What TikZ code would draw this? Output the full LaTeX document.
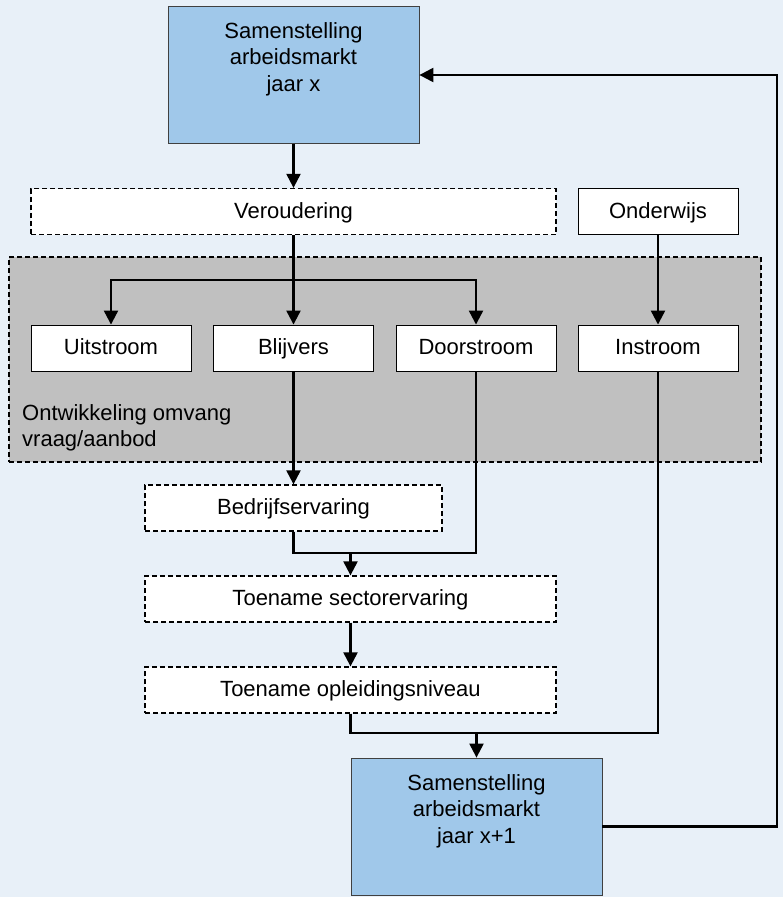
\documentclass[tikz,border=0pt]{standalone}
\usepackage{fontspec}
\setmainfont{Liberation Sans}
\usetikzlibrary{arrows.meta,positioning}
\definecolor{achter}{RGB}{232,240,248}
\definecolor{jaarblauw}{RGB}{160,200,234}
\definecolor{grijsvak}{RGB}{192,192,192}
\begin{document}
\begin{tikzpicture}[x=1pt,y=-1pt,
  font=\fontsize{22}{26.5}\selectfont,
  blauwvak/.style={draw=black!75,fill=jaarblauw,line width=0.8pt,minimum width=251pt,minimum height=137pt,inner sep=0pt},
  vak/.style={draw,fill=white,line width=0.9pt,minimum width=160pt,minimum height=46pt,inner sep=0pt,text height=16pt,text depth=3pt},
  stippelvak/.style={draw,dash pattern=on 5pt off 3pt,fill=white,line width=1.3pt,minimum height=46pt,inner sep=0pt,text height=16pt,text depth=3pt},
  lijn/.style={line width=2.2pt},
  pijl/.style={line width=2.2pt,-{Triangle[length=14pt,width=14pt]}}]
\fill[achter] (0,0) rectangle (783,897);
\useasboundingbox (0,0) rectangle (783,897);
% grijze achtergrond
\node[draw,dash pattern=on 5pt off 3pt,fill=grijsvak,line width=1.3pt,minimum width=752pt,minimum height=205pt,inner sep=0pt] (omvang) at (385,359.5) {};
\node[anchor=north west,inner sep=0pt,align=left] (omvangtxt) at (22,404) {Ontwikkeling omvang\\vraag/aanbod};
% blokken
\node[blauwvak] (jaarx) at (293.5,75) {};
\node[anchor=north,inner sep=0pt,align=center] (jaarxtxt) at (293.5,22) {Samenstelling\\arbeidsmarkt\\jaar x};
\node[stippelvak,minimum width=525pt] (veroud) at (293.5,211.5) {Veroudering};
\node[vak] (onderw) at (658,211.5) {Onderwijs};
\node[vak] (uitstr) at (111,348) {Uitstroom};
\node[vak] (blijv) at (293.5,348) {Blijvers};
\node[vak] (doorstr) at (476,348) {Doorstroom};
\node[vak] (instr) at (658,348) {Instroom};
\node[stippelvak,minimum width=297pt] (bedrijf) at (293.5,508) {Bedrijfservaring};
\node[stippelvak,minimum width=411pt] (sector) at (350.5,599) {Toename sectorervaring};
\node[stippelvak,minimum width=411pt] (opleid) at (350.5,690) {Toename opleidingsniveau};
\node[blauwvak] (jaarx1) at (476.5,826.5) {};
\node[anchor=north,inner sep=0pt,align=center] (jaarx1txt) at (476.5,774) {Samenstelling\\arbeidsmarkt\\jaar x+1};
% verbindingen
\coordinate (splits) at (293.5,280);
\coordinate (samen1) at (350.5,553);
\coordinate (samen2) at (476.5,733);
\coordinate (terug) at (777,75);
\draw[pijl] (jaarx.south) -- (veroud.north);
\draw[pijl] (veroud.south) -- (blijv.north);
\draw[pijl] (splits) -| (uitstr.north);
\draw[pijl] (splits) -| (doorstr.north);
\draw[pijl] (onderw.south) -- (instr.north);
\draw[pijl] (blijv.south) -- (bedrijf.north);
\draw[lijn] (bedrijf.south) |- (samen1) -| (doorstr.south);
\draw[pijl] (samen1) -- (sector.north);
\draw[pijl] (sector.south) -- (opleid.north);
\draw[lijn] (opleid.south) |- (samen2) -| (instr.south);
\draw[pijl] (samen2) -- (jaarx1.north);
\draw[pijl] (jaarx1.east) -- (jaarx1.east -| terug) -- (terug) -- (jaarx.east);
\end{tikzpicture}
\end{document}
